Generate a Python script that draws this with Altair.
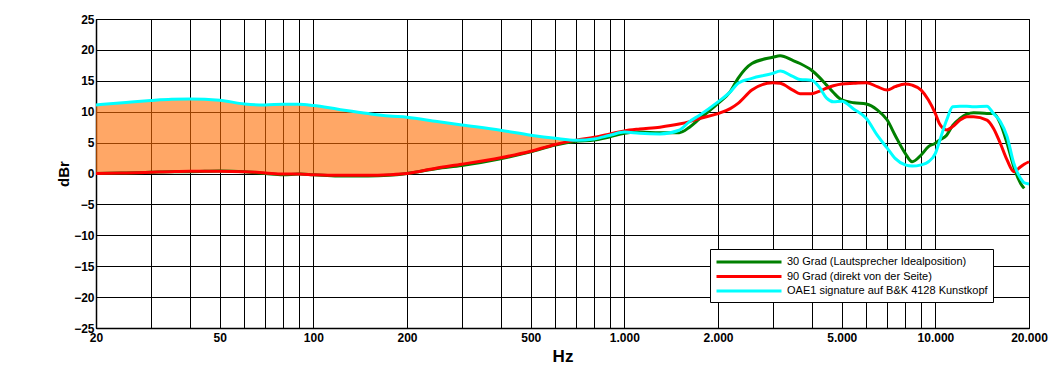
import altair as alt
import pandas as pd

# ---------------- data ----------------
freq = [20, 25, 30, 35, 40, 50, 60, 70, 80, 90, 100, 120, 150, 175, 200, 250, 300,
        400, 500, 600, 700, 800, 900, 1000, 1120, 1300, 1500, 1620, 1740, 2000, 2190,
        2320, 2570, 3000, 3170, 3480, 3670, 4000, 4230, 4470, 4700, 5000, 5470, 6000,
        6500, 7000, 7420, 8000, 8420, 9000, 9500, 10000, 10300, 10870, 11370, 12000,
        12620, 13270, 14650, 15380, 16170, 17000, 17870, 18800, 19300, 20000]

green_db = [0.0, 0.1, 0.2, 0.3, 0.3, 0.4, 0.3, 0.0, -0.2, -0.1, -0.2, -0.4, -0.4, -0.3,
            0.0, 0.8, 1.3, 2.4, 3.5, 4.6, 5.2, 5.4, 5.95, 6.5, 6.7, 6.6, 6.6, 7.5, 8.8,
            11.35, 13.25, 15.4, 17.8, 18.8, 19.05, 18.3, 17.8, 16.7, 15.6, 14.3, 13.1,
            11.9, 11.45, 11.25, 10.3, 8.65, 6.2, 3.25, 1.9, 3.0, 4.35, 4.9, 5.4, 6.2,
            7.8, 8.9, 9.6, 9.85, 9.7, 9.7, 8.1, 4.9, 1.1, -1.6, -2.4, None]

red_db = [0.0, 0.1, 0.2, 0.3, 0.35, 0.35, 0.3, 0.1, -0.1, -0.1, -0.2, -0.3, -0.3, -0.2,
          0.0, 0.9, 1.5, 2.55, 3.6, 4.7, 5.4, 5.85, 6.4, 6.9, 7.2, 7.5, 8.0, 8.4, 8.9,
          9.7, 10.5, 11.35, 13.5, 14.7, 14.6, 13.5, 12.9, 12.9, 13.3, 13.8, 14.2, 14.5,
          14.6, 14.7, 14.05, 13.5, 14.05, 14.5, 14.3, 13.5, 11.9, 9.7, 8.1, 7.05, 7.6,
          8.65, 9.2, 9.2, 8.65, 7.3, 4.9, 2.2, 0.3, 1.1, 1.5, 1.9]

cyan_db = [11.1, 11.5, 11.8, 12.0, 12.05, 11.85, 11.25, 11.1, 11.2, 11.2, 11.0, 10.4,
           9.7, 9.3, 9.1, 8.4, 7.85, 7.0, 6.2, 5.7, 5.4, 5.6, 6.2, 6.7, 6.5, 6.4, 7.0,
           8.4, 9.4, 11.6, 13.2, 14.6, 15.4, 16.2, 16.6, 15.7, 15.2, 15.1, 14.0, 12.2,
           11.6, 11.7, 10.4, 8.9, 6.2, 4.1, 2.45, 1.4, 1.2, 1.4, 1.9, 3.25, 5.15, 8.65,
           10.8, 10.9, 10.9, 10.8, 10.9, 9.7, 8.4, 6.0, 1.65, -0.8, -1.5, -1.7]

series_names = ["30 Grad (Lautsprecher Idealposition)",
                "90 Grad (direkt von der Seite)",
                "OAE1 signature auf B&K 4128 Kunstkopf"]
series_colors = ["#008000", "#FF0000", "#00FFFF"]
series_widths = [3, 3, 2]

y_ticks = [-25, -20, -15, -10, -5, 0, 5, 10, 15, 20, 25]
x_grid = [20, 30, 40, 50, 60, 70, 80, 90, 100, 200, 300, 400, 500, 600, 700, 800, 900,
          1000, 2000, 3000, 4000, 5000, 6000, 7000, 8000, 9000, 10000, 20000]
x_labels = [20, 50, 100, 200, 500, 1000, 2000, 5000, 10000, 20000]
fill_limit = 700

# ---------------- tables ----------------
rows = []
for name, vals in zip(series_names, [green_db, red_db, cyan_db]):
    for f, v in zip(freq, vals):
        if v is not None:
            rows.append({"freq": f, "db": v, "series": name})
df = pd.DataFrame(rows)

band = pd.DataFrame({"freq": freq, "upper": cyan_db, "lower": red_db})
band = band[band["freq"] <= fill_limit]

FONT = "Liberation Sans"

label_expr = ("indexof([" + ",".join(str(v) for v in x_labels) + "], datum.value) >= 0 ? "
              "replace(format(datum.value, ','), ',', '.') : ''")

x_scale = alt.Scale(type="log", domain=[20, 20000], nice=False)
y_scale = alt.Scale(domain=[-25, 25], nice=False, zero=False)

x_axis = alt.Axis(values=x_grid, labelExpr=label_expr, title="Hz",
                  grid=True, gridColor="black", gridWidth=1, gridOpacity=1,
                  domainColor="black", domainWidth=1.5, ticks=False, tickSize=0,
                  labelFont=FONT, labelFontSize=12, labelFontWeight="bold",
                  labelColor="black", labelPadding=4, labelFlush=False,
                  labelOverlap=False,
                  titleFont=FONT, titleFontSize=17, titleFontWeight="bold",
                  titleColor="black", titleBaseline="alphabetic",
                  titleX=466.5, titleY=33)

y_axis = alt.Axis(values=y_ticks, format="d", title="dBr",
                  grid=True, gridColor="black", gridWidth=1, gridOpacity=1,
                  domainColor="black", domainWidth=1.5, ticks=False, tickSize=0,
                  labelFont=FONT, labelFontSize=12, labelFontWeight="bold",
                  labelColor="black", labelPadding=2, labelOverlap=False,
                  titleFont=FONT, titleFontSize=15, titleFontWeight="bold",
                  titleColor="black", titleBaseline="alphabetic", titleAngle=270,
                  titleX=-28, titleY=154.5)

# horizontal line symbol: unit box [-1,1] scaled by sqrt(size)/2
legend = alt.Legend(title=None, orient="none", legendX=614, legendY=230,
                    direction="vertical", fillColor="white", strokeColor="black",
                    padding=5, symbolType="M-1,0H9", symbolSize=169,
                    labelFont=FONT, labelFontSize=11,
                    labelColor="black", labelOffset=56, rowPadding=0.5,
                    labelLimit=400, cornerRadius=0)

area = alt.Chart(band).mark_area(color="#FF6D00", opacity=0.6,
                                 interpolate="monotone").encode(
    x=alt.X("freq:Q", scale=x_scale, axis=x_axis),
    y=alt.Y("upper:Q", scale=y_scale, axis=y_axis),
    y2="lower:Q",
)

lines = alt.Chart(df).mark_line(interpolate="monotone").encode(
    x=alt.X("freq:Q", scale=x_scale, axis=x_axis),
    y=alt.Y("db:Q", scale=y_scale, axis=y_axis),
    color=alt.Color("series:N", scale=alt.Scale(domain=series_names, range=series_colors),
                    legend=legend),
    strokeWidth=alt.StrokeWidth("series:N",
                                scale=alt.Scale(domain=series_names, range=series_widths),
                                legend=legend),
)

chart = alt.layer(area, lines).properties(
    width=933, height=309,
    autosize=alt.AutoSizeParams(type="none"),
    padding={"left": 88, "top": 11, "right": 23, "bottom": 44},
    background="white",
).configure_view(stroke="black", strokeWidth=1)

chart.save("out.html", embed_options={"renderer": "svg", "actions": False})
